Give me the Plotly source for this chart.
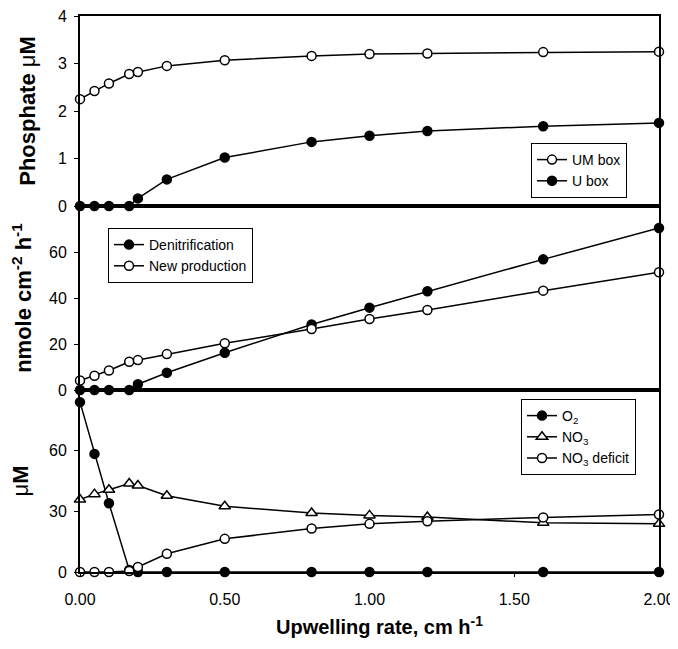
import plotly.graph_objects as go

# Upwelling rate (cm h-1)
upwelling = [0, 0.05, 0.1, 0.17, 0.2, 0.3, 0.5, 0.8, 1.0, 1.2, 1.6, 2.0]

# Top panel: Phosphate (uM)
phos_um_box = [2.25, 2.42, 2.58, 2.78, 2.82, 2.95, 3.07, 3.16, 3.20, 3.21, 3.24, 3.25]
phos_u_box = [0, 0, 0, 0, 0.16, 0.56, 1.02, 1.35, 1.48, 1.58, 1.68, 1.75]

# Middle panel: nmole cm-2 h-1
denitrification = [0, 0, 0, 0, 2.5, 7.5, 16.2, 28.5, 35.8, 42.9, 56.8, 70.4]
new_production = [4.1, 6.2, 8.5, 12.3, 13.0, 15.6, 20.3, 26.5, 30.9, 34.8, 43.2, 51.2]

# Bottom panel: uM
o2 = [84, 58.4, 34, 1, 0, 0, 0, 0, 0, 0, 0, 0]
no3 = [35.8, 38.5, 40.7, 43.8, 42.8, 37.7, 32.5, 29.2, 28.0, 27.2, 24.3, 23.8]
no3_deficit = [0, 0, 0, 0.5, 2.5, 9.0, 16.4, 21.5, 23.8, 25.1, 27.0, 28.4]

x_tickvals = [0, 0.5, 1.0, 1.5, 2.0]
x_ticktext = ["0.00", "0.50", "1.00", "1.50", "2.00"]

FONT = "Liberation Sans, Arial, sans-serif"
BLACK = "black"

fig = go.Figure()

def add(x, y, name, symbol, filled, xa, ya, legend, size=9):
    fig.add_trace(go.Scatter(
        x=x, y=y, name=name, mode="lines+markers",
        line=dict(color=BLACK, width=1.5),
        marker=dict(symbol=symbol, size=size,
                    color=BLACK if filled else "white",
                    line=dict(color=BLACK, width=1.5)),
        xaxis=xa, yaxis=ya, legend=legend, cliponaxis=False,
    ))

# top
add(upwelling, phos_um_box, "UM box", "circle", False, "x", "y", "legend")
add(upwelling, phos_u_box, "U box", "circle", True, "x", "y", "legend")
# middle
add(upwelling, denitrification, "Denitrification", "circle", True, "x2", "y2", "legend2")
add(upwelling, new_production, "New production", "circle", False, "x2", "y2", "legend2")
# bottom
add(upwelling, o2, "O<sub>2</sub>", "circle", True, "x3", "y3", "legend3")
add(upwelling, no3, "NO<sub>3</sub>", "triangle-up", False, "x3", "y3", "legend3", size=10)
add(upwelling, no3_deficit, "NO<sub>3</sub> deficit", "circle", False, "x3", "y3", "legend3")

# page body adds an 8px offset on each side; plot area targets x 80..659, y 16..572 on screen
OFF = 8
FIG_W = 678 - OFF
FIG_H = 649 - 2 * OFF
H = 556.0
W = 579.0
d_top = (572 - 206) / H
d_mid = (572 - 390) / H

xcommon = dict(range=[0, 2.0], showline=True, linecolor=BLACK, linewidth=2,
               mirror=True, showgrid=False, zeroline=False, automargin=False,
               ticklabeloverflow="allow", ticklabelstandoff=9,
               tickvals=x_tickvals, ticktext=x_ticktext,
               ticks="outside", ticklen=3, tickcolor=BLACK,
               tickfont=dict(family=FONT, size=16, color=BLACK))
ycommon = dict(showline=True, linecolor=BLACK, linewidth=2, mirror=True,
               showgrid=False, zeroline=False, ticks="outside", ticklen=4,
               automargin=False, ticklabeloverflow="allow", ticklabelstandoff=4,
               tickcolor=BLACK, tickfont=dict(family=FONT, size=16, color=BLACK))
ytitle_font = dict(family=FONT, size=22, color=BLACK)

legend_common = dict(bgcolor="white", bordercolor=BLACK, borderwidth=1,
                     font=dict(family=FONT, size=14, color=BLACK),
                     tracegroupgap=0, itemwidth=30, xanchor="left", yanchor="top")

fig.update_layout(
    width=FIG_W, height=FIG_H,
    margin=dict(l=80 - OFF, r=FIG_W - (80 - OFF) - int(W), t=16 - OFF,
                b=FIG_H - (16 - OFF) - int(H), autoexpand=False),
    paper_bgcolor="white", plot_bgcolor="white",
    font=dict(family=FONT, color=BLACK),
    xaxis=dict(xcommon, anchor="y", showticklabels=False, ticks=""),
    yaxis=dict(ycommon, domain=[d_top, 1], range=[0, 4], tickvals=[0, 1, 2, 3, 4],
               title=dict(text="<b>Phosphate </b>μ<b>M</b>", font=ytitle_font, standoff=16)),
    xaxis2=dict(xcommon, anchor="y2", matches="x", showticklabels=False, ticks=""),
    yaxis2=dict(ycommon, domain=[d_mid, d_top], range=[0, 80], tickvals=[0, 20, 40, 60],
                title=dict(text="<b>nmole cm<sup>-2</sup> h<sup>-1</sup></b>", font=ytitle_font, standoff=14)),
    xaxis3=dict(xcommon, anchor="y3", matches="x"),
    yaxis3=dict(ycommon, domain=[0, d_mid], range=[0, 90], tickvals=[0, 30, 60],
                title=dict(text="μ<b>M</b>", font=ytitle_font, standoff=16)),
    legend=dict(legend_common, x=(531 - 80) / W, y=(572 - 143) / H),
    legend2=dict(legend_common, x=(108 - 80) / W, y=(572 - 228) / H),
    legend3=dict(legend_common, x=(521 - 80) / W, y=(572 - 399) / H),
    showlegend=True,
)

# x-axis title as an annotation for exact placement
fig.add_annotation(text="<b>Upwelling rate, cm h<sup>-1</sup></b>",
                   xref="paper", yref="paper",
                   x=(379 - 80) / W, y=-(625 - 572) / H,
                   xanchor="center", yanchor="middle", showarrow=False,
                   font=dict(family=FONT, size=20, color=BLACK))

fig.write_html("out.html")
